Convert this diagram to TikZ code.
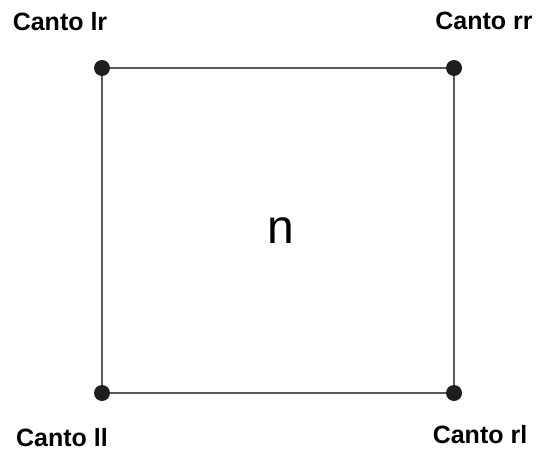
\documentclass[tikz,border=0pt]{standalone}
\usepackage{fontspec}
\setmainfont{Liberation Sans}
\usetikzlibrary{positioning}
\definecolor{edgegray}{HTML}{5A5A5A}
\definecolor{dotdark}{HTML}{1E1E1E}

\begin{document}
\begin{tikzpicture}[
 x=1pt,y=-1pt,
 corner/.style={circle,fill=dotdark,inner sep=0pt,minimum size=16pt},
 tag/.style={font=\fontsize{25}{28}\selectfont\bfseries,inner sep=0pt},
 side/.style={draw=edgegray,line width=2pt}
]
\useasboundingbox (0,0) rectangle (538,452);
\node[corner] (lr) at (102,68) {};
\node[corner] (rr) at (454,68) {};
\node[corner] (ll) at (102,393) {};
\node[corner] (rl) at (454,393) {};
\draw[side] (lr)--(rr)--(rl)--(ll)--(lr);
\node[tag] (tlr) at (60,22) {Canto lr};
\node[tag] (trr) at (484,21) {Canto rr};
\node[tag] (tll) at (62,438) {Canto ll};
\node[tag] (trl) at (480,435) {Canto rl};
\node[font=\fontsize{48}{52}\selectfont,inner sep=0pt] (n) at (281,231) {n};
\end{tikzpicture}
\end{document}
